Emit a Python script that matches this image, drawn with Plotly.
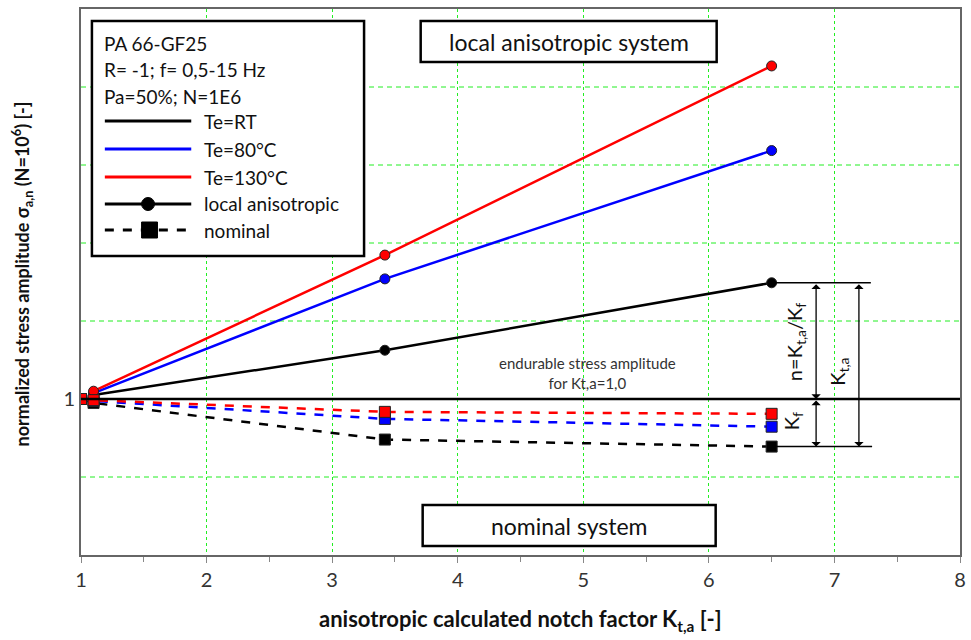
import plotly.graph_objects as go

# ---------------- data ----------------
kt_local = [1.1, 3.42, 6.5]
local_rt = [1.01, 1.125, 1.298]
local_80 = [1.015, 1.308, 1.637]
local_130 = [1.02, 1.369, 1.854]

kt_nominal = [1.0, 1.1, 3.42, 6.5]
nom_rt = [1.0, 0.99, 0.896, 0.878]
nom_80 = [1.0, 0.995, 0.949, 0.929]
nom_130 = [1.0, 0.997, 0.967, 0.962]

x_ticks = [1, 2, 3, 4, 5, 6, 7, 8]
y_grid = [0.8, 1.2, 1.4, 1.6, 1.8]
y_tickvals = [1.0]
y_labels = ["1"]

FONT = "Lato"
GREEN = "#22ee22"
W, H = 971, 640
L, R, T, B = 81, 5, 9, 85
PW, PH = W - L - R, H - T - B


def px(xp):
    return (xp - L) / PW


def py(yp):
    return (H - B - yp) / PH


fig = go.Figure()

series = [
    (kt_local, local_rt, "black", "solid", "circle", 10),
    (kt_local, local_80, "#0000ff", "solid", "circle", 10),
    (kt_local, local_130, "#ff0000", "solid", "circle", 10),
    (kt_nominal, nom_rt, "black", "dash", "square", 11),
    (kt_nominal, nom_80, "#0000ff", "dash", "square", 11),
    (kt_nominal, nom_130, "#ff0000", "dash", "square", 11),
]
for xs, ys, col, dash, sym, ms in series:
    fig.add_trace(go.Scatter(
        x=xs, y=ys, mode="lines+markers",
        line=dict(color=col, width=2.5, dash=dash),
        marker=dict(symbol=sym, size=ms, color=col,
                    line=dict(color="#222", width=1)),
        showlegend=False, hoverinfo="skip"))

shapes = []
annos = []


def text(xp, yp, t, size, angle=0, xanchor="center", color="#111"):
    annos.append(dict(x=px(xp), y=py(yp), xref="paper", yref="paper", text=t,
                      showarrow=False, textangle=angle, xanchor=xanchor, yanchor="middle",
                      font=dict(family=FONT, size=size, color=color)))


# horizontal green grid lines
for g in y_grid:
    shapes.append(dict(type="line", xref="paper", yref="y", x0=0, x1=1, y0=g, y1=g,
                       line=dict(color=GREEN, width=1, dash="5px,4px"), layer="below"))

# endurable line y = 1
shapes.append(dict(type="line", xref="x", yref="y", x0=1, x1=8, y0=1, y1=1,
                   line=dict(color="black", width=2.5), layer="above"))

# dimension lines
shapes.append(dict(type="line", xref="x", yref="y", x0=6.5, x1=7.29,
                   y0=local_rt[-1], y1=local_rt[-1], line=dict(color="black", width=1.5)))
shapes.append(dict(type="line", xref="x", yref="y", x0=6.5, x1=7.3,
                   y0=nom_rt[-1], y1=nom_rt[-1], line=dict(color="black", width=1.5)))


def dim_arrow(x, y0, y1):
    annos.append(dict(x=x, y=y1, ax=x, ay=y0, xref="x", yref="y", axref="x", ayref="y",
                      showarrow=True, arrowhead=1, startarrowhead=1, arrowside="end+start",
                      arrowsize=1.2, arrowwidth=1.3, arrowcolor="black", text=""))


dim_arrow(6.854, local_rt[-1], 1.0)
dim_arrow(6.854, 1.0, nom_rt[-1])
dim_arrow(7.195, local_rt[-1], nom_rt[-1])

text(800, 342, "n=K<sub>t,a</sub>/K<sub>f</sub>", 20, angle=-90)
text(843, 372, "K<sub>t,a</sub>", 20, angle=-90)
text(797, 421, "K<sub>f</sub>", 20, angle=-90)

text(591, 373, "endurable stress amplitude<br>for Kt,a=1,0", 15, color="#333")

# system boxes
for (x0, x1, y0, y1, txt) in [(423, 721, 21, 62, "local anisotropic system"),
                              (425, 720, 505, 546, "nominal system")]:
    shapes.append(dict(type="rect", xref="paper", yref="paper", x0=px(x0), x1=px(x1),
                       y0=py(y1), y1=py(y0), line=dict(color="black", width=2.5),
                       fillcolor="white", layer="above"))
    text((x0 + x1) / 2, (y0 + y1) / 2, txt, 23)

# legend box (drawn)
shapes.append(dict(type="rect", xref="paper", yref="paper", x0=px(92), x1=px(366),
                   y0=py(256), y1=py(21), line=dict(color="black", width=2.5),
                   fillcolor="white", layer="above"))
for txt, yp in [("PA 66-GF25", 43), ("R= -1; f= 0,5-15 Hz", 69), ("Pa=50%; N=1E6", 96)]:
    text(102, yp, txt, 19, xanchor="left")
leg = [("Te=RT", 121, "black", None, None),
       ("Te=80°C", 149, "#0000ff", None, None),
       ("Te=130°C", 177, "#ff0000", None, None),
       ("local anisotropic", 204, "black", None, "circle"),
       ("nominal", 230, "black", "dash", "square")]
for txt, yp, col, dash, sym in leg:
    shapes.append(dict(type="line", xref="paper", yref="paper", x0=px(105), x1=px(192),
                       y0=py(yp), y1=py(yp), layer="above",
                       line=dict(color=col, width=2.8, dash=dash or "solid")))
    if sym == "circle":
        shapes.append(dict(type="circle", xref="paper", yref="paper", x0=px(142), x1=px(155),
                           y0=py(yp + 6.5), y1=py(yp - 6.5), fillcolor="black",
                           line=dict(color="black", width=1), layer="above"))
    elif sym == "square":
        shapes.append(dict(type="rect", xref="paper", yref="paper", x0=px(142), x1=px(158),
                           y0=py(yp + 8), y1=py(yp - 8), fillcolor="black",
                           line=dict(color="black", width=1), layer="above"))
    text(203, yp, txt, 19, xanchor="left")

# axis titles
text(22, 274, "<b>normalized stress amplitude σ<sub>a,n</sub> (N=10<sup>6</sup>) [-]</b>", 18, angle=-90)
text(524, 620, "<b>anisotropic calculated notch factor K<sub>t,a</sub> [-]</b>", 22)

fig.update_layout(
    width=W, height=H, margin=dict(l=L, r=R, t=T, b=B),
    paper_bgcolor="white", plot_bgcolor="white",
    shapes=shapes, annotations=annos,
    font=dict(family=FONT, size=19, color="#333"),
    xaxis=dict(range=[1, 8], tickvals=x_ticks, showgrid=True, gridcolor=GREEN,
               griddash="3px,3px", gridwidth=1, zeroline=False,
               showline=True, linecolor="#666", linewidth=2, mirror=True,
               ticks="outside", ticklen=6, tickcolor="#888",
               minor=dict(dtick=0.5, ticks="outside", ticklen=5, tickcolor="#888", showgrid=False),
               tickfont=dict(family=FONT, size=20, color="#333")),
    yaxis=dict(range=[0.6, 2.0], tickvals=y_tickvals, ticktext=y_labels, showgrid=False,
               zeroline=False, showline=True, linecolor="#666", linewidth=2, mirror=True,
               ticks="", tickfont=dict(family=FONT, size=20, color="#333")),
)

fig.write_html("out.html")
